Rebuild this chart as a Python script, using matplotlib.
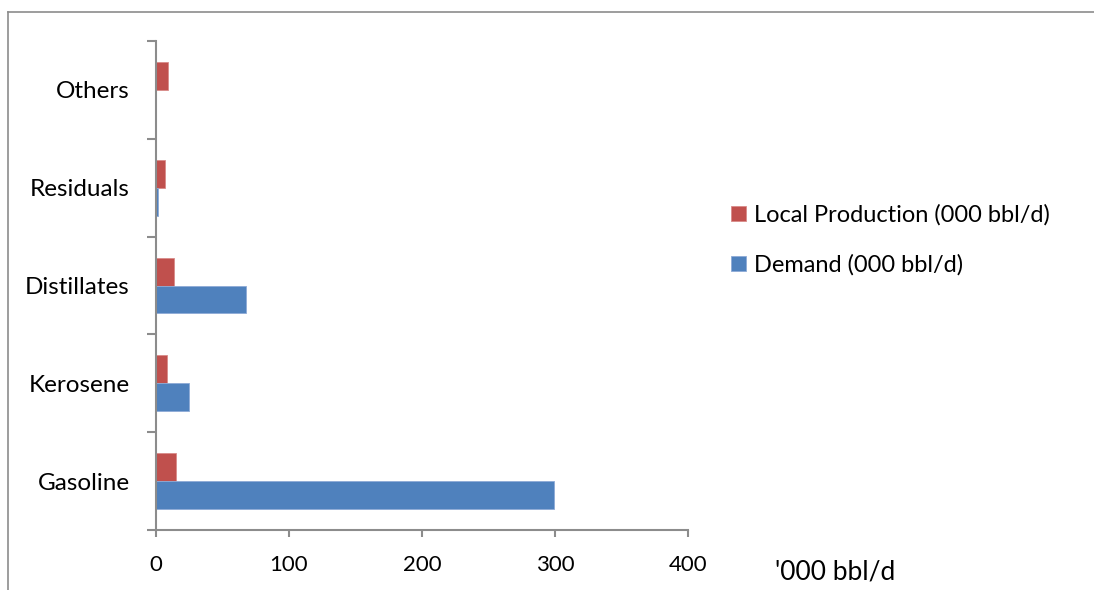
import numpy as np
import matplotlib.pyplot as plt
from matplotlib.lines import Line2D

categories = ['Gasoline', 'Kerosene', 'Distillates', 'Residuals', 'Others']
local_production = [15, 8, 13.5, 7, 9]
demand = [299, 25, 67.5, 1.3, 0.3]
x_ticks = [0, 100, 200, 300, 400]

plt.rcParams['font.family'] = ['Lato', 'DejaVu Sans']

fig = plt.figure(figsize=(10.94, 5.90), dpi=100)
ax = fig.add_axes([156 / 1094, 1 - 530 / 590, 532 / 1094, 489 / 590])

# outer chart frame (top and left edges only)
fx = 7.5 / 1094
fy = 1 - 11.5 / 590
fig.add_artist(Line2D([fx, 1.0], [fy, fy], transform=fig.transFigure,
                      color='#8c8c8c', linewidth=1.2))
fig.add_artist(Line2D([fx, fx], [0.0, fy], transform=fig.transFigure,
                      color='#8c8c8c', linewidth=1.2))

y = np.arange(len(categories))
h = 0.286
red = '#C0504D'
blue = '#4F81BD'
ax.barh(y + h / 2, local_production, height=h, color=red,
        edgecolor='#d98b89', linewidth=0.6, label='Local Production (000 bbl/d)')
ax.barh(y - h / 2, demand, height=h, color=blue,
        edgecolor='#8eaad6', linewidth=0.6, label='Demand (000 bbl/d)')

ax.set_xlim(0, 400)
ax.set_ylim(-0.5, len(categories) - 0.5)
ax.set_xticks(x_ticks)
ax.set_xticklabels([str(t) for t in x_ticks], fontsize=16)
ax.set_yticks(np.arange(-0.5, len(categories), 1.0))
ax.set_yticklabels([])
ax.set_yticks(y, minor=True)
ax.set_yticklabels(categories, minor=True, fontsize=17.5)
ax.tick_params(axis='y', which='major', length=6.5, width=1.5, color='#8c8c8c')
ax.tick_params(axis='y', which='minor', length=0, pad=19)
ax.tick_params(axis='x', length=5, width=1.5, color='#8c8c8c', pad=13)

for s in ['top', 'right']:
    ax.spines[s].set_visible(False)
for s in ['left', 'bottom']:
    ax.spines[s].set_color('#8c8c8c')
    ax.spines[s].set_linewidth(1.5)

fig.text(775 / 1094, 1 - 572 / 590, "'000 bbl/d", fontsize=19, va='center')

ax.legend(loc='center left', bbox_to_anchor=(722 / 1094, 1 - 240 / 590),
          bbox_transform=fig.transFigure, frameon=False, fontsize=17,
          handlelength=0.6, handleheight=0.6, handletextpad=0.35,
          labelspacing=1.2, borderaxespad=0)

plt.savefig('out.png', dpi=100)
